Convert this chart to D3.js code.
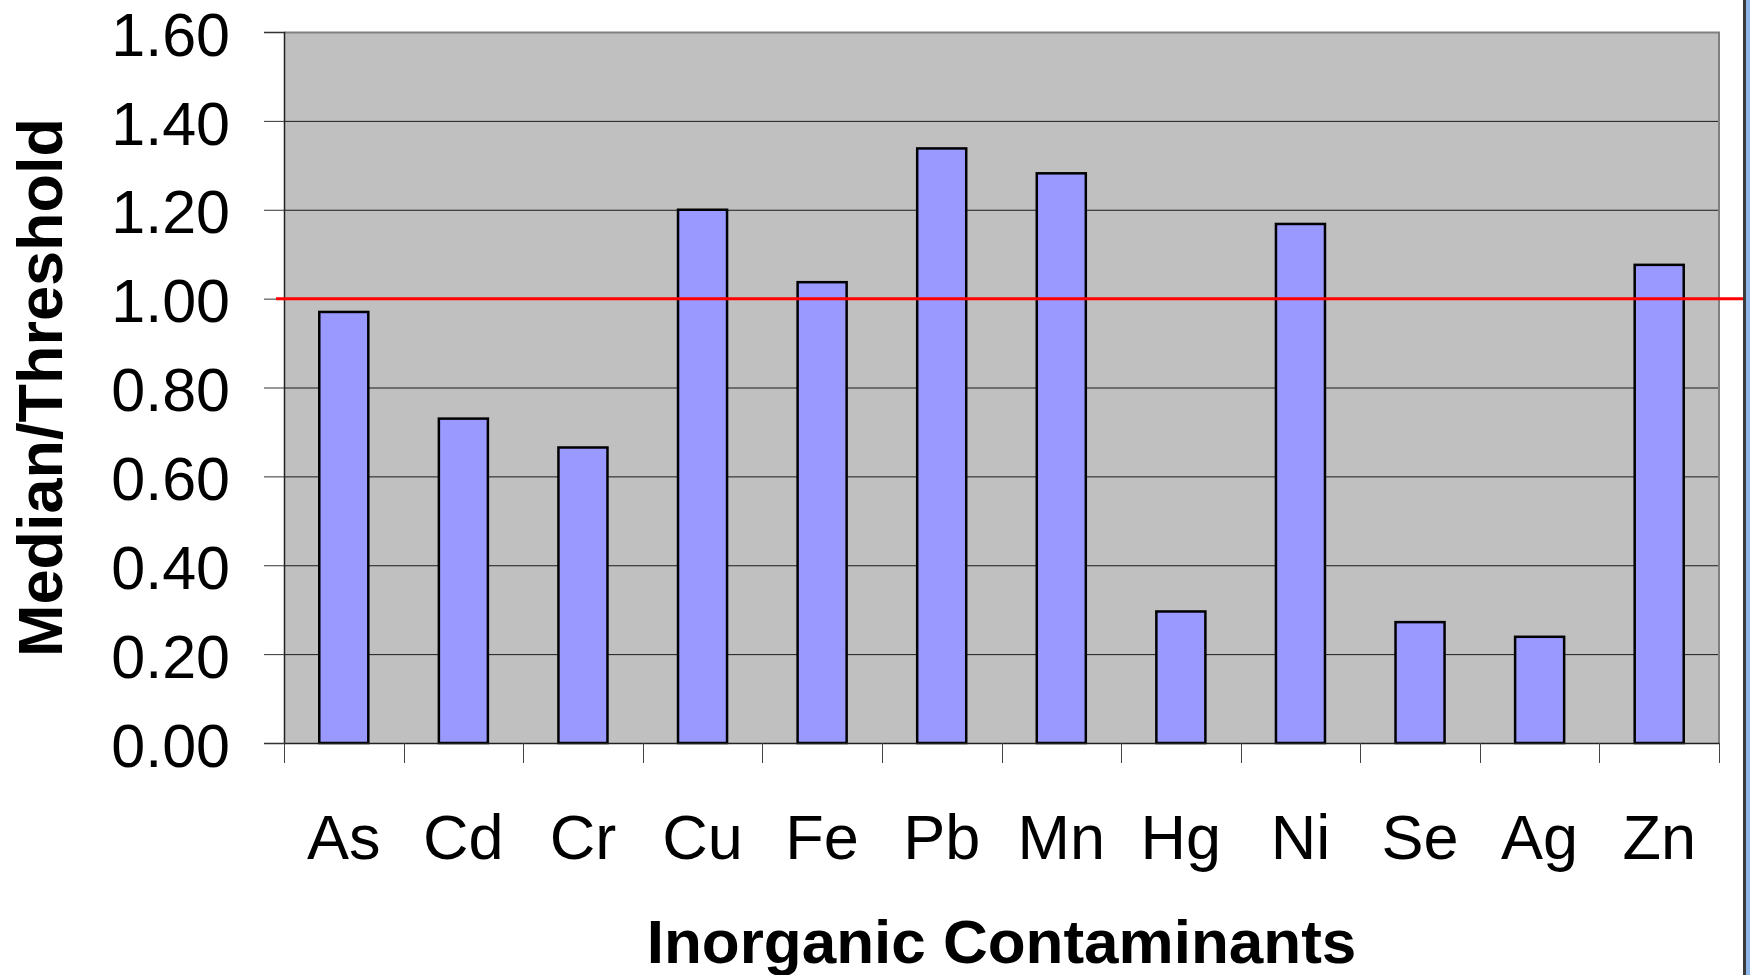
<!DOCTYPE html>
<html>
<head>
<meta charset="utf-8">
<script src="https://cdn.jsdelivr.net/npm/d3@7"></script>
<style>
  html, body { margin: 0; padding: 0; background: #ffffff; }
  svg { display: block; }
  text { font-family: "Liberation Sans", Arial, Helvetica, sans-serif; fill: #000; }
</style>
</head>
<body>
<svg id="chart" width="1750" height="975"></svg>
<script>
// Ratio of median concentration to threshold for each inorganic contaminant
const categories = ["As", "Cd", "Cr", "Cu", "Fe", "Pb", "Mn", "Hg", "Ni", "Se", "Ag", "Zn"];
const ratios = [0.97, 0.73, 0.665, 1.20, 1.037, 1.338, 1.282, 0.296, 1.168, 0.272, 0.239, 1.076];
const yTicks = [0, 0.2, 0.4, 0.6, 0.8, 1.0, 1.2, 1.4, 1.6];
const threshold = 1.0;
const yTitle = "Median/Threshold";
const xTitle = "Inorganic Contaminants";

const svg = d3.select("#chart");
const plot = { left: 284, right: 1719, top: 32, bottom: 743 };

const x = d3.scaleBand()
  .domain(categories)
  .range([plot.left, plot.right])
  .padding(0);

const y = d3.scaleLinear()
  .domain([0, 1.6])
  .range([plot.bottom, plot.top]);

// plot background
svg.append("rect")
  .attr("x", plot.left)
  .attr("y", plot.top)
  .attr("width", plot.right - plot.left)
  .attr("height", plot.bottom - plot.top)
  .attr("fill", "#c0c0c0");

// horizontal gridlines
svg.append("g")
  .selectAll("line")
  .data(yTicks.filter(d => d > 0 && d < 1.6))
  .join("line")
  .attr("x1", plot.left)
  .attr("x2", plot.right)
  .attr("y1", d => y(d) + 0.5)
  .attr("y2", d => y(d) + 0.5)
  .attr("stroke", "#1a1a1a")
  .attr("stroke-width", 1);

// plot frame: grey on top and right
svg.append("path")
  .attr("d", `M${plot.left},${plot.top + 0.5} H${plot.right} V${plot.bottom}`)
  .attr("fill", "none")
  .attr("stroke", "#808080")
  .attr("stroke-width", 2);

// bars
const barW = x.bandwidth() * 0.41;
svg.append("g")
  .selectAll("rect")
  .data(categories.map((c, i) => ({ c, v: ratios[i] })))
  .join("rect")
  .attr("x", d => x(d.c) + (x.bandwidth() - barW) / 2)
  .attr("y", d => y(d.v))
  .attr("width", barW)
  .attr("height", d => y(0) - y(d.v))
  .attr("fill", "#9999ff")
  .attr("stroke", "#000")
  .attr("stroke-width", 2.5);

// y axis
const yAxis = svg.append("g")
  .attr("transform", `translate(${plot.left},0)`)
  .call(d3.axisLeft(y)
    .tickValues(yTicks)
    .tickFormat(d3.format(".2f"))
    .tickSize(20)
    .tickPadding(34));
yAxis.select(".domain").attr("stroke", "#222").attr("stroke-width", 1.5);
yAxis.selectAll(".tick line").attr("stroke", "#333").attr("stroke-width", 1);
yAxis.selectAll(".tick text")
  .attr("font-size", 61)
  .attr("font-family", "'Liberation Sans', Arial, sans-serif")
  .attr("dy", "0.38em")
  .attr("fill", "#000");

// x axis
const xAxis = svg.append("g")
  .attr("transform", `translate(0,${plot.bottom})`)
  .call(d3.axisBottom(x).tickSize(0).tickPadding(70));
xAxis.select(".domain").attr("stroke", "#222").attr("stroke-width", 1.5);
xAxis.selectAll(".tick text")
  .attr("font-size", 63)
  .attr("font-family", "'Liberation Sans', Arial, sans-serif")
  .attr("dy", "0")
  .attr("y", 116)
  .attr("fill", "#000");

// category separators below the axis
const bounds = categories.map(c => x(c)).concat([plot.right]);
svg.append("g")
  .selectAll("line")
  .data(bounds)
  .join("line")
  .attr("x1", d => Math.round(d) + 0.5)
  .attr("x2", d => Math.round(d) + 0.5)
  .attr("y1", plot.bottom)
  .attr("y2", plot.bottom + 20)
  .attr("stroke", "#444")
  .attr("stroke-width", 1);

// threshold line
svg.append("line")
  .attr("x1", 276)
  .attr("x2", 1748)
  .attr("y1", y(threshold))
  .attr("y2", y(threshold))
  .attr("stroke", "#ff0000")
  .attr("stroke-width", 3);

// axis titles
svg.append("text")
  .attr("transform", `translate(62,${(plot.top + plot.bottom) / 2}) rotate(-90)`)
  .attr("text-anchor", "middle")
  .attr("font-size", 63)
  .attr("font-weight", "bold")
  .text(yTitle);

svg.append("text")
  .attr("x", (plot.left + plot.right) / 2)
  .attr("y", 963)
  .attr("text-anchor", "middle")
  .attr("font-size", 62)
  .attr("font-weight", "bold")
  .text(xTitle);

// window edge on the right
svg.append("rect")
  .attr("x", 1743)
  .attr("y", 0)
  .attr("width", 3)
  .attr("height", 975)
  .attr("fill", "#3a3a3a");
svg.append("rect")
  .attr("x", 1746)
  .attr("y", 0)
  .attr("width", 4)
  .attr("height", 975)
  .attr("fill", "#8fb8e8");
</script>
</body>
</html>
